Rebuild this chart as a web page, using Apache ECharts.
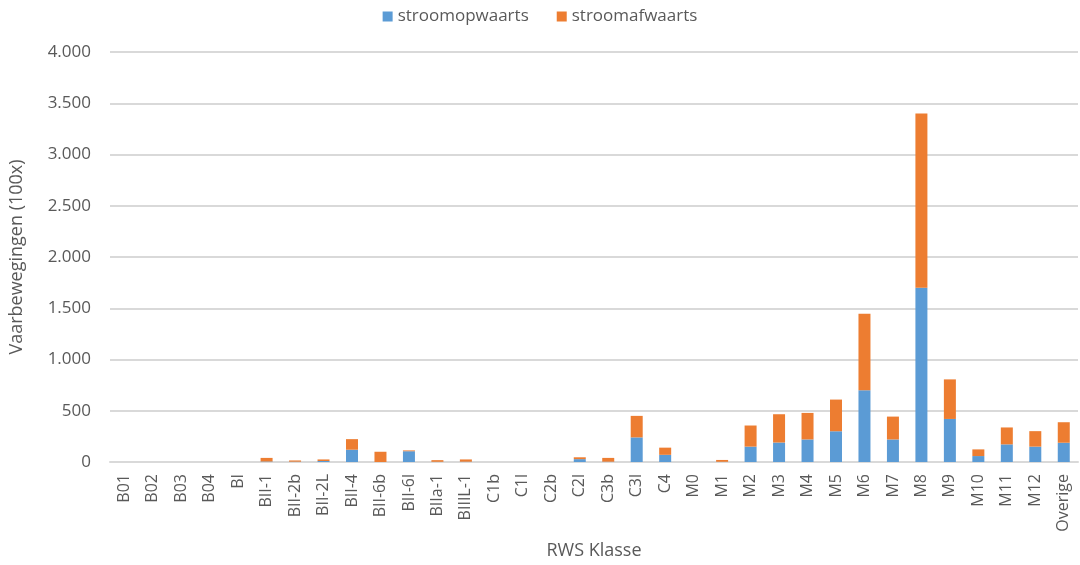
<!DOCTYPE html>
<html>
<head>
<meta charset="utf-8">
<script src="https://cdn.jsdelivr.net/npm/echarts@6/dist/echarts.min.js"></script>
<style>html,body{margin:0;padding:0;background:#fff}#c{width:1080px;height:565px}</style>
</head>
<body>
<div id="c"></div>
<script>
const categories = ['B01','B02','B03','B04','BI','BII-1','BII-2b','BII-2L','BII-4','BII-6b','BII-6l','BIIa-1','BIIIL-1','C1b','C1l','C2b','C2l','C3b','C3l','C4','M0','M1','M2','M3','M4','M5','M6','M7','M8','M9','M10','M11','M12','Overige'];
const stroomopwaarts = [0,0,0,0,0,5,3,10,120,0,105,2,3,0,0,0,28,3,240,70,0,2,150,190,220,300,700,220,1700,420,58,172,150,188];
const stroomafwaarts = [0,0,0,0,0,35,12,15,103,100,8,16,22,0,0,0,18,37,210,70,0,18,206,276,259,309,747,223,1700,386,65,165,151,200];
const yTicks = [0,500,1000,1500,2000,2500,3000,3500,4000];

const fmt = v => String(v).replace(/\B(?=(\d{3})+(?!\d))/g, '.');
const chart = echarts.init(document.getElementById('c'));
const font = 'Open Sans';
chart.setOption({
  animation: false,
  textStyle: {fontFamily: font},
  legend: {
    top: 3, left: 'center', itemWidth: 10, itemHeight: 10, itemGap: 28,
    icon: 'rect',
    textStyle: {color: '#595959', fontSize: 17, fontFamily: font},
    data: ['stroomopwaarts','stroomafwaarts']
  },
  grid: {left: 103, right: 2, top: 52, bottom: 101, containLabel: false},
  xAxis: {
    type: 'category', data: categories,
    name: 'RWS Klasse', nameLocation: 'middle', nameGap: 80,
    nameTextStyle: {color: '#595959', fontSize: 18, fontFamily: font},
    axisLine: {lineStyle: {color: '#d9d9d9', width: 2}},
    axisTick: {show: false},
    axisLabel: {rotate: 90, interval: 0, color: '#595959', fontSize: 16, margin: 12, fontFamily: font}
  },
  yAxis: {
    type: 'value', min: yTicks[0], max: yTicks[yTicks.length-1], interval: 500,
    name: 'Vaarbewegingen (100x)', nameLocation: 'middle', nameGap: 84,
    nameTextStyle: {color: '#595959', fontSize: 18, fontFamily: font},
    axisLine: {show: false}, axisTick: {show: false},
    splitLine: {lineStyle: {color: '#d9d9d9', width: 2}},
    axisLabel: {color: '#595959', fontSize: 17, margin: 19, formatter: fmt, fontFamily: font}
  },
  series: [
    {name: 'stroomopwaarts', type: 'bar', stack: 's', data: stroomopwaarts, barWidth: 12, itemStyle: {color: '#5B9BD5'}},
    {name: 'stroomafwaarts', type: 'bar', stack: 's', data: stroomafwaarts, barWidth: 12, itemStyle: {color: '#ED7D31'}}
  ]
});
</script>
</body>
</html>
